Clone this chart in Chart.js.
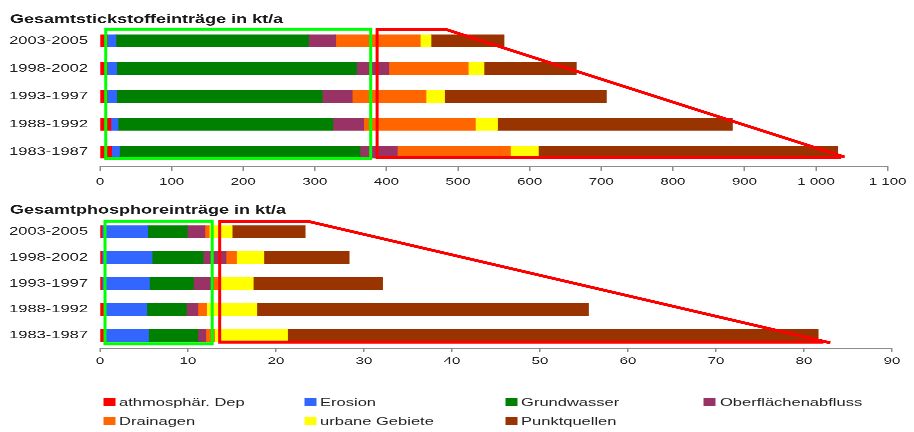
<!DOCTYPE html>
<html>
<head>
<meta charset="utf-8">
<title>Gesamteinträge Stickstoff und Phosphor</title>
<script src="https://cdn.jsdelivr.net/npm/chart.js@4.4.0/dist/chart.umd.min.js"></script>
<style>
  html, body { margin: 0; padding: 0; background: #fff; }
  body { width: 914px; height: 432px; overflow: hidden; position: relative; }
  /* the original picture is stretched sideways, so draw narrow and stretch */
  #stage { position: absolute; left: 0; top: 0; width: 609.33px; height: 432px;
           transform: scaleX(1.5); transform-origin: 0 0;
           font-family: 'Liberation Sans', Arial, sans-serif; }
  .box { position: absolute; left: 0; width: 609.33px; height: 190px; }
  .item { position: absolute; font-size: 11px; line-height: 12px; color: #222; white-space: nowrap; }
  .sw { position: absolute; left: 0; top: 2px; width: 8px; height: 8px; }
  .txt { position: absolute; left: 10.7px; top: 0; }
</style>
</head>
<body>
<div id="stage">
  <div class="box" style="top:0"><canvas id="nChart"></canvas></div>
  <div class="box" style="top:190px"><canvas id="pChart"></canvas></div>
  <div id="legend"></div>
</div>

<script>
var S = 1.5;

var periods = ['2003-2005', '1998-2002', '1993-1997', '1988-1992', '1983-1987'];
var sources = ['athmosphär. Dep', 'Erosion', 'Grundwasser', 'Oberflächenabfluss',
               'Drainagen', 'urbane Gebiete', 'Punktquellen'];
var colors = ['#ff0000', '#3366ff', '#008000', '#993366', '#ff6600', '#ffff00', '#993300'];

// Stickstoff, kt/a (same order as periods)
var nAtmo    = [10, 10, 10, 15, 16];
var nErosion = [12, 13, 13, 10, 11];
var nGrund   = [269, 335, 287, 300, 336];
var nOber    = [38, 45, 42, 43, 52];
var nDrain   = [118, 111, 103, 156, 158];
var nUrban   = [15, 22, 26, 31, 39];
var nPunkt   = [102, 129, 226, 328, 418];

// Phosphor, kt/a
var pAtmo    = [0.2, 0.2, 0.2, 0.4, 0.4];
var pErosion = [5.2, 5.7, 5.4, 4.9, 5.1];
var pGrund   = [4.5, 5.8, 5.0, 4.5, 5.6];
var pOber    = [2.0, 2.6, 2.3, 1.3, 0.9];
var pDrain   = [0.5, 1.2, 0.5, 1.0, 1.0];
var pUrban   = [2.6, 3.1, 4.0, 5.7, 8.3];
var pPunkt   = [8.3, 9.7, 14.7, 37.7, 60.3];

var nTicks = [0, 100, 200, 300, 400, 500, 600, 700, 800, 900, 1000, 1100];
var pTicks = [0, 10, 20, 30, 40, 50, 60, 70, 80, 90];

// highlight frames, in axis units (x value, y category index)
var nFrames = {
  green: { x0: 8, x1: 378, y0: -0.42, y1: 4.24 },
  red: { x0: 387, corner: 482, y0: -0.42, y1: 4.2, endX: 1040, endY: 4.18, bottomX: 1035 }
};
var pFrames = {
  green: { x0: 0.57, x1: 12.75, y0: -0.41, y1: 4.33 },
  red: { x0: 13.6, corner: 23.8, y0: -0.39, y1: 4.26, endX: 83.0, endY: 4.29, bottomX: 82.2 }
};

function fmt(v) {
  return String(v).replace(/\B(?=(\d{3})+(?!\d))/g, ' ');
}

var framePlugin = {
  id: 'frames',
  afterDatasetsDraw: function(chart) {
    var f = chart.options.plugins.frames;
    if (!f || !f.green) return;
    var xs = chart.scales.x, ys = chart.scales.y, ctx = chart.ctx;
    function px(v) { return xs.getPixelForValue(v) * S; }
    function py(v) { return ys.getPixelForValue(v); }
    ctx.save();
    ctx.scale(1 / S, 1);
    ctx.lineWidth = 3;
    ctx.lineJoin = 'miter';

    var g = f.green;
    ctx.strokeStyle = '#00ff00';
    ctx.strokeRect(px(g.x0), py(g.y0), px(g.x1) - px(g.x0), py(g.y1) - py(g.y0));

    var r = f.red;
    ctx.strokeStyle = '#ff0000';
    ctx.beginPath();
    ctx.moveTo(px(r.bottomX), py(r.y1));
    ctx.lineTo(px(r.x0), py(r.y1));
    ctx.lineTo(px(r.x0), py(r.y0));
    ctx.lineTo(px(r.corner), py(r.y0));
    ctx.lineTo(px(r.endX), py(r.endY));
    ctx.stroke();
    ctx.restore();
  }
};

function makeChart(id, title, values, ticks, frames, layout) {
  var datasets = [];
  for (var i = 0; i < sources.length; i++) {
    datasets.push({
      label: sources[i],
      data: values[i],
      backgroundColor: colors[i],
      borderWidth: 0,
      barThickness: 12
    });
  }
  return new Chart(document.getElementById(id), {
    type: 'bar',
    data: { labels: periods, datasets: datasets },
    plugins: [framePlugin],
    options: {
      indexAxis: 'y',
      responsive: true,
      maintainAspectRatio: false,
      animation: false,
      devicePixelRatio: 3,
      layout: { padding: { left: 6.67, right: 14.67, top: 0, bottom: 0 } },
      plugins: {
        legend: { display: false },
        tooltip: { enabled: false },
        title: {
          display: true,
          text: title,
          align: 'start',
          color: '#1a1a1a',
          font: { family: "'Liberation Sans', Arial, sans-serif", size: 12, weight: 'bold' },
          padding: { top: layout.titleTop, bottom: layout.titleBottom }
        },
        frames: frames
      },
      scales: {
        x: {
          stacked: true,
          min: ticks[0],
          max: ticks[ticks.length - 1],
          afterBuildTicks: function(scale) {
            scale.ticks = ticks.map(function(v) { return { value: v }; });
          },
          afterFit: function(scale) { scale.height = layout.axisHeight; },
          grid: { drawOnChartArea: false, drawTicks: true, tickLength: layout.tickLength, color: '#8c8c8c' },
          border: { display: true, color: '#8c8c8c', width: 1 },
          ticks: {
            autoSkip: false,
            maxRotation: 0,
            padding: layout.tickPad,
            color: '#222',
            font: { family: "'Liberation Sans', Arial, sans-serif", size: 10 },
            callback: function(v) { return fmt(v); }
          }
        },
        y: {
          stacked: true,
          afterFit: function(scale) { scale.width = 60; },
          grid: { display: false, drawTicks: false },
          border: { display: false },
          ticks: {
            padding: 8,
            color: '#222',
            font: { family: "'Liberation Sans', Arial, sans-serif", size: 11 }
          }
        }
      }
    }
  });
}

makeChart('nChart', 'Gesamtstickstoffeinträge in kt/a',
  [nAtmo, nErosion, nGrund, nOber, nDrain, nUrban, nPunkt], nTicks, nFrames,
  { titleTop: 12.5, titleBottom: 0, axisHeight: 24, tickLength: 5, tickPad: 5 });

makeChart('pChart', 'Gesamtphosphoreinträge in kt/a',
  [pAtmo, pErosion, pGrund, pOber, pDrain, pUrban, pPunkt], pTicks, pFrames,
  { titleTop: 13, titleBottom: 1.4, axisHeight: 31.7, tickLength: 4, tickPad: 3 });

// legend: four columns, two rows
var legendCols = [68.7, 202.7, 336.7, 469.3];
var legendRows = [396, 415];
var legend = document.getElementById('legend');
for (var k = 0; k < sources.length; k++) {
  var item = document.createElement('div');
  item.className = 'item';
  item.style.left = legendCols[k % 4] + 'px';
  item.style.top = legendRows[Math.floor(k / 4)] + 'px';
  item.innerHTML = '<span class="sw" style="background:' + colors[k] + '"></span>' +
                   '<span class="txt">' + sources[k] + '</span>';
  legend.appendChild(item);
}
</script>
</body>
</html>
